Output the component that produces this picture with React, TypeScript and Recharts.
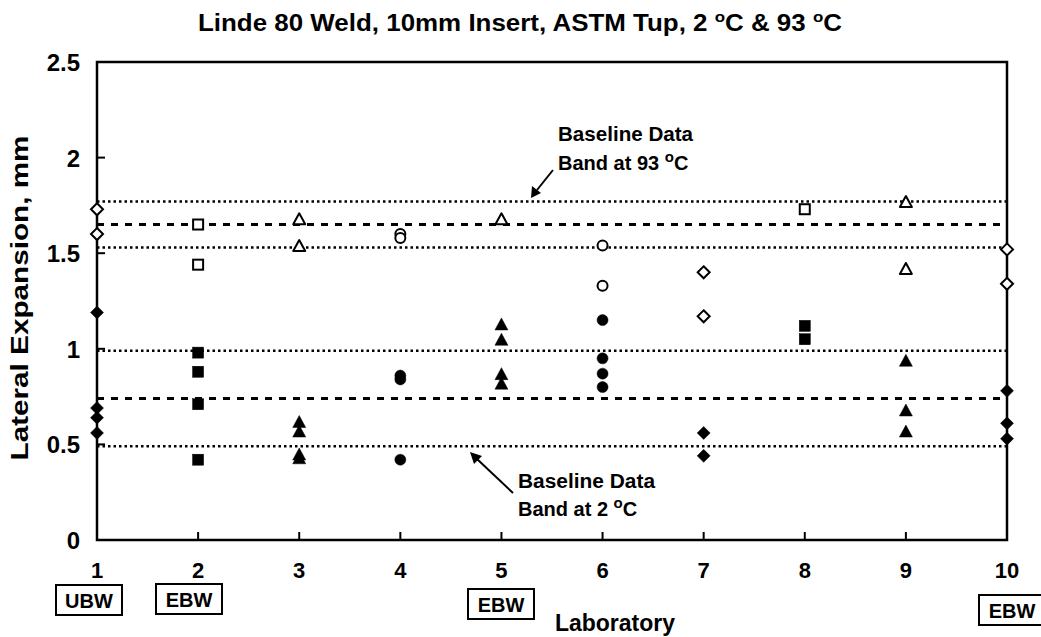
import React from 'react';
import {
  ScatterChart,
  Scatter,
  XAxis,
  YAxis,
  ReferenceLine,
  ReferenceArea,
} from 'recharts';

// Laboratory numbers and marker shape used by each lab
const laboratories = [1, 2, 3, 4, 5, 6, 7, 8, 9, 10];
const labShapes = ['diamond', 'square', 'triangle', 'circle', 'triangle', 'circle', 'diamond', 'square', 'triangle', 'diamond'];

// Lateral expansion (mm) at 93 °C (open markers), per lab
const hot93 = [
  [1.73, 1.6],
  [1.65, 1.44],
  [1.68, 1.54],
  [1.6, 1.58],
  [1.68],
  [1.54, 1.33],
  [1.4, 1.17],
  [1.73],
  [1.77, 1.42],
  [1.52, 1.34],
];

// Lateral expansion (mm) at 2 °C (filled markers), per lab
const cold2 = [
  [1.19, 0.69, 0.64, 0.56],
  [0.98, 0.88, 0.71, 0.42],
  [0.62, 0.57, 0.45, 0.43],
  [0.86, 0.84, 0.42],
  [1.13, 1.05, 0.87, 0.82],
  [1.15, 0.95, 0.87, 0.8],
  [0.56, 0.44],
  [1.12, 1.05],
  [0.94, 0.68, 0.57],
  [0.78, 0.61, 0.53],
];

// Baseline data bands: [lower, mean, upper]
const band93 = [1.53, 1.65, 1.77];
const band2 = [0.49, 0.74, 0.99];

const yTicks = [0, 0.5, 1, 1.5, 2, 2.5];
const xTicks = laboratories;

// Welding type boxes under some labs
const weldBoxes = [
  { lab: 1, text: 'UBW', x: 89, y: 585 },
  { lab: 2, text: 'EBW', x: 189, y: 584 },
  { lab: 5, text: 'EBW', x: 501, y: 589 },
  { lab: 10, text: 'EBW', x: 1012, y: 595 },
];

const FONT = "'Liberation Sans', Arial, Helvetica, sans-serif";

const buildPoints = (values: number[][], filled: boolean) =>
  values.flatMap((list, i) =>
    list.map((v) => ({ lab: laboratories[i], value: v, shape: labShapes[i], filled }))
  );

const hotPoints = buildPoints(hot93, false);
const coldPoints = buildPoints(cold2, true);

const Marker = (props: any) => {
  const { cx, cy, payload } = props;
  if (cx == null || cy == null) return null;
  const filled = payload.filled;
  const fill = filled ? '#000' : '#fff';
  const stroke = '#000';
  const sw = filled ? 0.5 : 2;
  switch (payload.shape) {
    case 'square': {
      const h = filled ? 5.5 : 5;
      return <rect x={cx - h} y={cy - h} width={h * 2} height={h * 2} fill={fill} stroke={stroke} strokeWidth={sw} />;
    }
    case 'triangle': {
      const w = filled ? 6.5 : 6;
      const t = filled ? 6 : 5.5;
      return (
        <polygon
          points={`${cx},${cy - t} ${cx + w},${cy + t} ${cx - w},${cy + t}`}
          fill={fill}
          stroke={stroke}
          strokeWidth={sw}
          strokeLinejoin="round"
        />
      );
    }
    case 'circle':
      return <circle cx={cx} cy={cy} r={filled ? 5.5 : 5} fill={fill} stroke={stroke} strokeWidth={sw} />;
    default: {
      const d = filled ? 6.5 : 6;
      return (
        <polygon
          points={`${cx},${cy - d} ${cx + d},${cy} ${cx},${cy + d} ${cx - d},${cy}`}
          fill={fill}
          stroke={stroke}
          strokeWidth={sw}
        />
      );
    }
  }
};

const YTick = (props: any) => {
  const { x, y, payload } = props;
  return (
    <g>
      <text x={x} y={y} dy={9} textAnchor="end" fontFamily={FONT} fontWeight="bold" fontSize={24} fill="#000">
        {payload.value}
      </text>
      {payload.value > 0 && payload.value < 2.5 && (
        <line x1={x + 17} x2={x + 25} y1={y} y2={y} stroke="#000" strokeWidth={2} />
      )}
    </g>
  );
};

const XTick = (props: any) => {
  const { x, y, payload } = props;
  return (
    <g>
      <text x={x} y={y} dy={32} textAnchor="middle" fontFamily={FONT} fontWeight="bold" fontSize={22} fill="#000">
        {payload.value}
      </text>
      {payload.value > 1 && payload.value < 10 && (
        <line x1={x} x2={x} y1={y - 6} y2={y - 14} stroke="#000" strokeWidth={2} />
      )}
    </g>
  );
};

const Deg = ({ size = 14, up = 8 }: { size?: number; up?: number }) => (
  <tspan dy={-up} fontSize={size}>o</tspan>
);

const App: React.FC = () => {
  return (
    <div style={{ position: 'relative', width: 1041, height: 637, background: '#fff' }}>
      <style>{`body{margin:0;background:#fff}`}</style>
      <ScatterChart width={1041} height={637} margin={{ top: 62, right: 34, bottom: 57, left: 37 }}>
        <XAxis
          type="number"
          dataKey="lab"
          domain={[1, 10]}
          ticks={xTicks}
          tick={<XTick />}
          tickLine={false}
          tickSize={0}
          tickMargin={6}
          axisLine={false}
          height={40}
          interval={0}
        />
        <YAxis
          type="number"
          dataKey="value"
          domain={[0, 2.5]}
          ticks={yTicks}
          tick={<YTick />}
          tickLine={false}
          tickSize={0}
          tickMargin={17}
          axisLine={false}
          width={60}
          interval={0}
        />
        <ReferenceArea x1={1} x2={10} y1={0} y2={2.5} fill="none" stroke="#000" strokeWidth={2.5} ifOverflow="visible" />
        {band93.map((v, i) => (
          <ReferenceLine
            key={`h${i}`}
            y={v}
            stroke="#000"
            strokeWidth={i === 1 ? 3 : 2.5}
            strokeDasharray={i === 1 ? '7 7' : '2.5 3'}
          />
        ))}
        {band2.map((v, i) => (
          <ReferenceLine
            key={`c${i}`}
            y={v}
            stroke="#000"
            strokeWidth={i === 1 ? 3 : 2.5}
            strokeDasharray={i === 1 ? '7 7' : '2.5 3'}
          />
        ))}
        <Scatter name="93 °C" data={hotPoints} shape={<Marker />} isAnimationActive={false} />
        <Scatter name="2 °C" data={coldPoints} shape={<Marker />} isAnimationActive={false} />
      </ScatterChart>

      <svg
        width={1041}
        height={637}
        style={{ position: 'absolute', left: 0, top: 0, pointerEvents: 'none' }}
        fontFamily={FONT}
        fontWeight="bold"
      >
        <text x={198} y={31} fontSize={23} textLength={644} lengthAdjust="spacingAndGlyphs">
          Linde 80 Weld, 10mm Insert, ASTM Tup, 2 <Deg size={15} up={9} /><tspan dy={9}>C &amp; 93 </tspan><Deg size={15} up={9} /><tspan dy={9}>C</tspan>
        </text>

        <text
          transform="translate(28,298) rotate(-90)"
          textAnchor="middle"
          fontSize={23}
          textLength={325}
          lengthAdjust="spacingAndGlyphs"
        >
          Lateral Expansion,  mm
        </text>

        <text x={558} y={141} fontSize={20} textLength={135} lengthAdjust="spacingAndGlyphs">Baseline Data</text>
        <text x={558} y={170} fontSize={20}>
          Band at 93 <Deg size={15} up={8} /><tspan dy={8}>C</tspan>
        </text>
        <line x1={553} y1={170} x2={537} y2={190} stroke="#000" strokeWidth={2} />
        <polygon points="531,198 532,186 541,193" fill="#000" />

        <text x={518} y={488} fontSize={20} textLength={137} lengthAdjust="spacingAndGlyphs">Baseline Data</text>
        <text x={518} y={516} fontSize={20}>
          Band at 2 <Deg size={15} up={8} /><tspan dy={8}>C</tspan>
        </text>
        <line x1={513} y1={493} x2={477} y2={459} stroke="#000" strokeWidth={2} />
        <polygon points="470,452 482,456 474,464" fill="#000" />

        {weldBoxes.map((b) => (
          <g key={`${b.lab}-${b.text}`}>
            <rect x={b.x - 33} y={b.y} width={66} height={30} fill="#fff" stroke="#000" strokeWidth={2} />
            <text x={b.x} y={b.y + 23} textAnchor="middle" fontSize={20}>
              {b.text}
            </text>
          </g>
        ))}

        <text x={615} y={631} textAnchor="middle" fontSize={23}>Laboratory</text>
      </svg>
    </div>
  );
};

export default App;
